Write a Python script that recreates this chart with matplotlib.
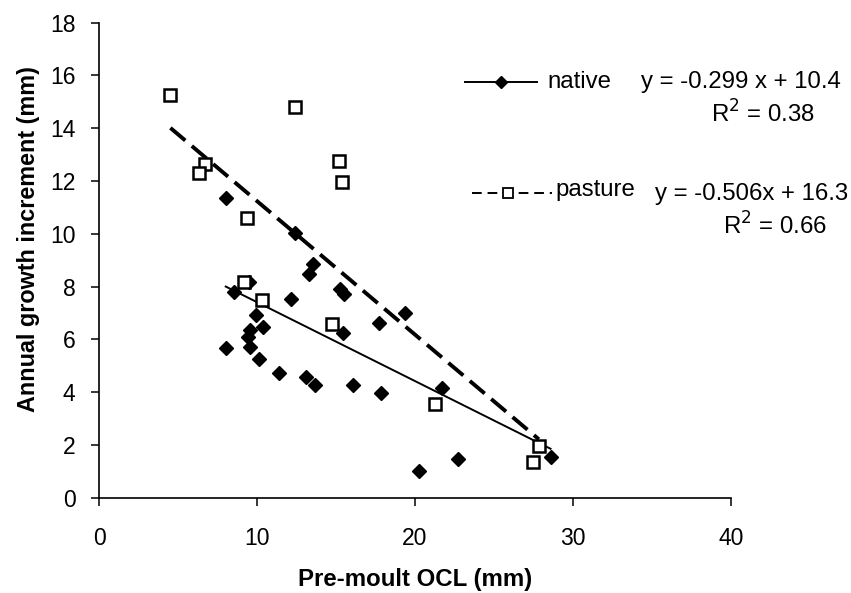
import matplotlib
matplotlib.use("Agg")
import matplotlib.pyplot as plt
from matplotlib.lines import Line2D
import numpy as np

plt.rcParams['font.family'] = ['Liberation Sans', 'DejaVu Sans']

# Native habitat: pre-moult OCL (mm) vs annual growth increment (mm)
native_x = [8.02, 12.42, 13.53, 13.32, 9.49, 8.52, 12.14, 15.26, 15.53, 19.38,
            17.70, 15.42, 9.95, 10.37, 9.58, 9.43, 9.58, 8.06, 10.12, 11.38,
            13.07, 13.70, 16.10, 17.87, 20.25, 21.70, 22.75, 28.58]
native_y = [11.34, 10.04, 8.84, 8.46, 8.19, 7.78, 7.53, 7.90, 7.72, 6.99,
            6.63, 6.25, 6.92, 6.48, 6.35, 6.08, 5.72, 5.66, 5.26, 4.74,
            4.56, 4.27, 4.27, 3.96, 1.02, 4.15, 1.47, 1.55]

# Pasture habitat
pasture_x = [4.52, 12.42, 15.21, 15.36, 6.69, 6.31, 9.36, 9.15, 10.31, 14.75,
             21.28, 27.84, 27.46]
pasture_y = [15.26, 14.82, 12.77, 11.95, 12.63, 12.30, 10.61, 8.19, 7.49, 6.58,
             3.55, 1.97, 1.36]

# Linear trendlines (slope, intercept, R^2)
native_fit = (-0.299, 10.4, 0.38)
pasture_fit = (-0.506, 16.3, 0.66)

x_ticks = [0, 10, 20, 30, 40]
y_ticks = [0, 2, 4, 6, 8, 10, 12, 14, 16, 18]

W, H = 851, 593
fig = plt.figure(figsize=(W / 100, H / 100), dpi=100)
ax = fig.add_axes([99 / W, 1 - 497.7 / H, (731 - 99) / W, (497.7 - 22.7) / H])

TXT = 17.3

# Trendlines over each series' x range
nx = np.array([min(native_x), max(native_x)])
ax.plot(nx, native_fit[0] * nx + native_fit[1], color='black', lw=1.4, zorder=2)
px = np.array([min(pasture_x), max(pasture_x)])
ax.plot(px, pasture_fit[0] * px + pasture_fit[1], color='black', lw=2.8,
        dashes=(5, 2.2), zorder=2)

# Data points
ax.plot(native_x, native_y, linestyle='none', marker='D', ms=7.2,
        mfc='black', mec='black', zorder=3)
ax.plot(pasture_x, pasture_y, linestyle='none', marker='s', ms=8,
        mfc='white', mec='black', mew=1.8, zorder=4)

ax.set_xlim(0, 40)
ax.set_ylim(0, 18)
ax.set_xticks(x_ticks)
ax.set_yticks(y_ticks)
ax.spines['top'].set_visible(False)
ax.spines['right'].set_visible(False)
for s in ('left', 'bottom'):
    ax.spines[s].set_linewidth(1.2)
ax.tick_params(axis='both', direction='out', length=6, width=1.1,
               labelsize=16.5)
ax.tick_params(axis='x', pad=15)
ax.tick_params(axis='y', pad=11)

ax.set_xlabel('Pre-moult OCL (mm)', fontsize=17.3, fontweight='bold', labelpad=13)
ax.set_ylabel('Annual growth increment (mm)', fontsize=16.8, fontweight='bold',
              labelpad=9)
ax.yaxis.set_label_coords(-0.093, 0.545)

# Legend with trendline equations
def fig_xy(px_, py_):
    return px_ / W, 1 - py_ / H

x0, y0 = fig_xy(465, 81.7)
x1, _ = fig_xy(537, 81.7)
fig.add_artist(Line2D([x0, x1], [y0, y0], color='black', lw=1.4,
                      transform=fig.transFigure))
fig.add_artist(Line2D([(x0 + x1) / 2], [y0], marker='D', ms=6, color='black',
                      linestyle='none', transform=fig.transFigure))
fig.text(*fig_xy(547, 81.7), 'native', fontsize=TXT, va='center', ha='left')
fig.text(*fig_xy(841, 81.7), 'y = %.3f x + %.1f' % native_fit[:2],
         fontsize=TXT, va='center', ha='right')
fig.text(*fig_xy(815, 114), 'R$^2$ = %.2f' % native_fit[2],
         fontsize=TXT, va='center', ha='right')

x0, y0 = fig_xy(472, 192.7)
x1, _ = fig_xy(552, 192.7)
fig.add_artist(Line2D([x0, x1], [y0, y0], color='black', lw=1.4,
                      dashes=(5, 3), transform=fig.transFigure))
fig.add_artist(Line2D([fig_xy(508, 0)[0]], [y0], marker='s', ms=6.5,
                      mfc='white', mec='black', mew=1.3, linestyle='none',
                      transform=fig.transFigure))
fig.text(*fig_xy(555, 190), 'pasture', fontsize=TXT, va='center', ha='left')
fig.text(*fig_xy(848, 194), 'y = %.3fx + %.1f' % pasture_fit[:2],
         fontsize=TXT, va='center', ha='right')
fig.text(*fig_xy(827, 226), 'R$^2$ = %.2f' % pasture_fit[2],
         fontsize=TXT, va='center', ha='right')

fig.savefig('out.png', dpi=100)
